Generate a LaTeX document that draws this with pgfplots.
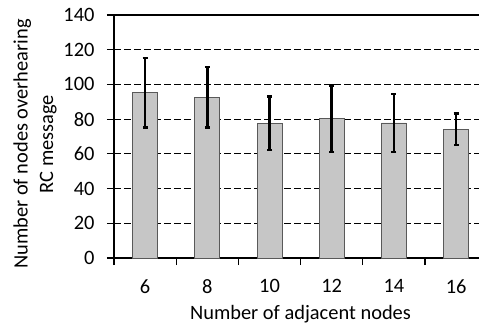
\documentclass[border=0pt]{standalone}
\usepackage{pgfplots}
\pgfplotsset{compat=1.18}
\usepackage{fontspec}
\setmainfont{Carlito}
\definecolor{barfill}{RGB}{198,198,198}
\begin{document}
\begin{tikzpicture}
\begin{axis}[
  name=ax, at={(0,0)}, anchor=south west,
  scale only axis, width=365bp, height=243bp,
  xmin=-0.5, xmax=5.368, ymin=0, ymax=140,
  axis x line*=bottom, axis y line*=left,
  x axis line style={black, line width=1.5bp},
  y axis line style={black, line width=2.2bp},
  /pgf/number format/assume math mode=true,
  ytick={0,20,...,140},
  ymajorgrids,
  major grid style={black, dash pattern=on 7bp off 3bp, line width=0.9bp},
  xtick={-0.5,0.5,...,4.5}, xticklabels={},
  extra x ticks={0,1,2,3,4,5},
  extra x tick labels={6,8,10,12,14,16},
  extra x tick style={grid=none, tick style={draw=none}},
  tick align=outside, major tick length=7bp,
  tick style={black, line width=1.2bp},
  yticklabel style={xshift=-9bp},
  xticklabel style={yshift=-11bp},
  tick label style={font=\fontsize{20.5}{25}\selectfont},
  label style={font=\fontsize{20.5}{25.5}\selectfont},
  xlabel={Number of adjacent nodes},
  xlabel style={at={(axis description cs:0.511,-0.2551)}, anchor=base},
  ylabel={Number of nodes overhearing\\RC message},
  ylabel style={align=center, at={(axis description cs:-0.2164,0.469)}, anchor=center},
]
\addplot[ybar, bar width=25bp, bar shift=0pt, fill=barfill, draw=black!65, line width=0.8bp,
  error bars/.cd, y dir=both, y explicit,
  error bar style={line width=2.5bp, black},
  error mark options={rotate=90, mark size=2.5bp, line width=2.5bp, black}]
  coordinates {
  (0,95.2) +- (0,20.0)
  (1,92.7) +- (0,17.4)
  (2,77.6) +- (0,15.4)
  (3,80.2) +- (0,19.1)
  (4,77.8) +- (0,16.6)
  (5,74.1) +- (0,9.1)
  };
\end{axis}
\draw[black, line width=1.3bp] (ax.north west) -- (ax.north east);
\pgfresetboundingbox
\path (-114bp,-68bp) rectangle (365bp,258bp);
\end{tikzpicture}
\end{document}
